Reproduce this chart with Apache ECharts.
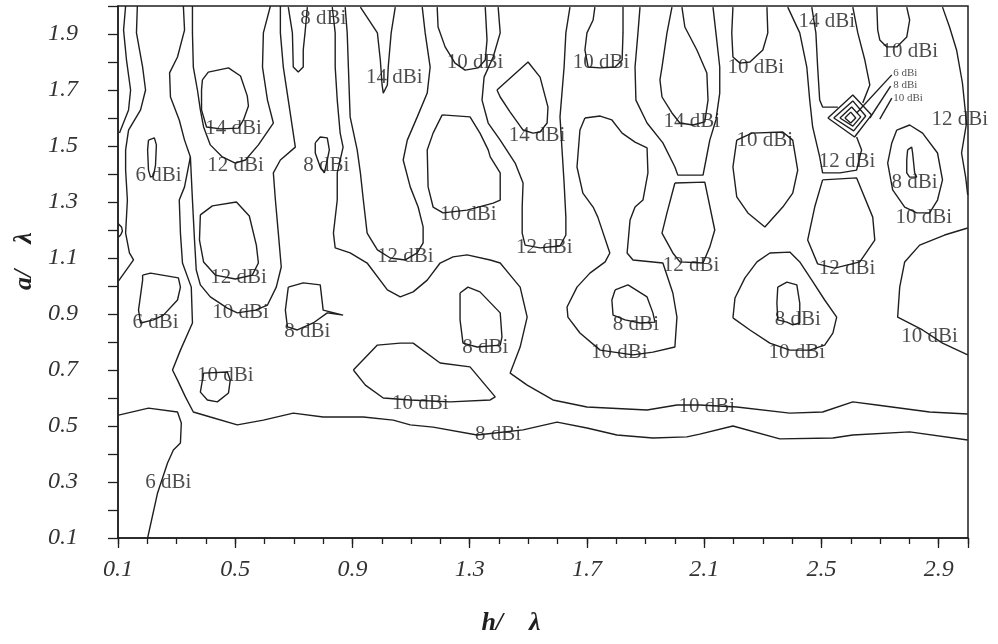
<!DOCTYPE html>
<html>
<head>
<meta charset="utf-8">
<script src="https://cdn.jsdelivr.net/npm/echarts@6/dist/echarts.min.js"></script>
<style>
  html, body { margin: 0; padding: 0; background: #fff; }
  #chart { width: 998px; height: 644px; }
</style>
</head>
<body>
<div id="chart"></div>
<script>
// Gain contours (dBi) over h/λ (x) and a/λ (y)
const xTickLabels = ['0.1', '0.5', '0.9', '1.3', '1.7', '2.1', '2.5', '2.9'];
const yTickLabels = ['0.1', '0.3', '0.5', '0.7', '0.9', '1.1', '1.3', '1.5', '1.7', '1.9'];

// left strip
const edgeTopLeft = [[0.126,2.0],[0.119,1.914],[0.129,1.807],[0.143,1.700],[0.136,1.629],[0.105,1.546]];
const edgeLeft2 = [[0.166,2.0],[0.163,1.904],[0.184,1.782],[0.194,1.700],[0.177,1.629],[0.136,1.557],[0.126,1.486],[0.126,1.414],[0.132,1.307],[0.126,1.189],[0.139,1.118],[0.153,1.093],[0.102,1.018]];
const edgeBump = [[0.102,1.221],[0.112,1.211],[0.115,1.196],[0.109,1.182],[0.102,1.175]];
const loop6a = [[0.204,1.521],[0.224,1.529],[0.231,1.504],[0.228,1.432],[0.221,1.393],[0.211,1.389],[0.204,1.414],[0.201,1.486],[0.204,1.521]];
const line10a = [[0.323,2.0],[0.327,1.914],[0.303,1.818],[0.276,1.761],[0.279,1.675],[0.309,1.593],[0.327,1.521],[0.347,1.461]];
const line8long = [[0.347,1.461],[0.327,1.354],[0.309,1.307],[0.313,1.189],[0.320,1.082],[0.350,0.996],[0.354,0.868],[0.313,0.771],[0.286,0.700],[0.303,0.664],[0.330,0.604],[0.357,0.550],[0.415,0.532],[0.507,0.504],[0.596,0.521],[0.698,0.546],[0.800,0.532],[0.937,0.532],[1.039,0.521],[1.097,0.504],[1.175,0.496],[1.325,0.468],[1.482,0.486],[1.598,0.514],[1.700,0.493],[1.802,0.468],[1.925,0.457],[2.041,0.461],[2.085,0.471],[2.198,0.500],[2.358,0.454],[2.539,0.457],[2.607,0.468],[2.801,0.479],[2.999,0.450]];
const line10b = [[0.347,1.461],[0.354,1.307],[0.361,1.164],[0.367,1.057],[0.381,1.004],[0.415,0.961],[0.473,0.921],[0.507,0.904],[0.569,0.914],[0.610,0.932],[0.640,0.996],[0.657,1.068],[0.647,1.189],[0.637,1.307],[0.630,1.404],[0.654,1.450],[0.705,1.496],[0.681,1.664],[0.664,1.782],[0.654,1.904],[0.654,2.0]];
const u12a = [[0.354,2.0],[0.354,1.904],[0.357,1.782],[0.371,1.700],[0.381,1.629],[0.392,1.568],[0.415,1.504],[0.456,1.461],[0.500,1.439],[0.535,1.450],[0.579,1.504],[0.630,1.582],[0.610,1.664],[0.593,1.782],[0.596,1.904],[0.620,2.0]];
const loop14a = [[0.388,1.736],[0.408,1.764],[0.477,1.779],[0.518,1.750],[0.541,1.679],[0.545,1.643],[0.528,1.593],[0.511,1.564],[0.449,1.561],[0.402,1.568],[0.385,1.629],[0.385,1.700],[0.388,1.736]];
const loop12a = [[0.381,1.254],[0.422,1.286],[0.504,1.300],[0.548,1.250],[0.572,1.146],[0.579,1.082],[0.558,1.039],[0.500,1.025],[0.432,1.039],[0.392,1.086],[0.378,1.164],[0.381,1.254]];
const loop6b = [[0.184,1.039],[0.211,1.046],[0.306,1.029],[0.313,0.996],[0.303,0.950],[0.255,0.896],[0.221,0.879],[0.177,0.868],[0.170,0.914],[0.184,1.021],[0.184,1.039]];
const loop8a = [[0.681,0.996],[0.732,1.011],[0.790,1.004],[0.800,0.914],[0.868,0.896],[0.814,0.904],[0.766,0.868],[0.712,0.843],[0.678,0.854],[0.671,0.914],[0.681,0.996]];
const loop10small = [[0.392,0.689],[0.473,0.693],[0.483,0.664],[0.477,0.618],[0.439,0.586],[0.405,0.593],[0.381,0.621],[0.388,0.664],[0.392,0.689]];
const line6low = [[0.102,0.539],[0.204,0.564],[0.303,0.550],[0.316,0.511],[0.313,0.439],[0.289,0.414],[0.269,0.368],[0.235,0.261],[0.201,0.100]];
const tongue8 = [[0.681,1.996],[0.695,1.904],[0.698,1.782],[0.715,1.764],[0.732,1.782],[0.732,1.843],[0.739,1.914],[0.746,1.996]];
const loop8b = [[0.773,1.511],[0.790,1.532],[0.814,1.529],[0.821,1.486],[0.814,1.450],[0.804,1.404],[0.790,1.425],[0.773,1.475],[0.773,1.511]];

// centre
const u12b = [[0.875,1.996],[0.882,1.904],[0.886,1.782],[0.892,1.604],[0.916,1.486],[0.927,1.404],[0.937,1.307],[0.950,1.189],[0.985,1.129],[1.029,1.100],[1.080,1.093],[1.121,1.118],[1.141,1.154],[1.141,1.211],[1.124,1.282],[1.097,1.354],[1.073,1.450],[1.087,1.521],[1.121,1.604],[1.155,1.689],[1.165,1.782],[1.148,1.904],[1.138,1.996]];
const tongue14 = [[0.927,1.996],[0.985,1.904],[0.995,1.807],[1.001,1.718],[1.005,1.689],[1.019,1.718],[1.022,1.782],[1.032,1.904],[1.046,1.996]];
const line10long = [[0.831,1.996],[0.841,1.904],[0.841,1.782],[0.848,1.664],[0.858,1.546],[0.868,1.496],[0.848,1.404],[0.848,1.307],[0.835,1.189],[0.841,1.136],[0.892,1.118],[0.950,1.082],[1.019,0.986],[1.063,0.961],[1.107,0.979],[1.155,1.021],[1.199,1.082],[1.243,1.104],[1.291,1.111],[1.370,1.093],[1.404,1.082],[1.438,1.039],[1.472,0.996],[1.496,0.889],[1.472,0.782],[1.438,0.689],[1.496,0.646],[1.584,0.593],[1.700,0.568],[1.905,0.557],[2.007,0.575],[2.085,0.575],[2.211,0.568],[2.392,0.546],[2.504,0.550],[2.607,0.586],[2.689,0.575],[2.869,0.550],[2.999,0.543]];
const loop10mid = [[0.903,0.700],[0.985,0.789],[1.063,0.796],[1.107,0.796],[1.199,0.725],[1.301,0.711],[1.387,0.604],[1.370,0.593],[1.233,0.586],[1.097,0.593],[1.005,0.600],[0.944,0.646],[0.903,0.700]];
const loop8mid = [[1.267,0.975],[1.294,0.996],[1.335,0.979],[1.404,0.904],[1.410,0.818],[1.404,0.789],[1.325,0.782],[1.277,0.796],[1.267,0.879],[1.267,0.975]];
const u10a = [[1.189,1.996],[1.192,1.925],[1.216,1.854],[1.250,1.796],[1.284,1.771],[1.329,1.779],[1.353,1.807],[1.359,1.879],[1.353,1.996]];
const u12c = [[1.397,1.996],[1.404,1.904],[1.380,1.818],[1.349,1.746],[1.342,1.664],[1.363,1.582],[1.404,1.521],[1.455,1.439],[1.482,1.368],[1.479,1.282],[1.479,1.189],[1.489,1.146],[1.540,1.136],[1.608,1.143],[1.628,1.182],[1.628,1.246],[1.622,1.368],[1.615,1.486],[1.608,1.604],[1.622,1.782],[1.628,1.904],[1.642,1.996]];
const loop14b = [[1.393,1.700],[1.499,1.800],[1.540,1.746],[1.567,1.639],[1.564,1.582],[1.540,1.550],[1.516,1.546],[1.482,1.557],[1.438,1.621],[1.404,1.675],[1.393,1.700]];
const loop10b = [[1.206,1.611],[1.301,1.604],[1.335,1.546],[1.363,1.486],[1.370,1.461],[1.404,1.404],[1.404,1.307],[1.380,1.296],[1.291,1.271],[1.209,1.261],[1.175,1.282],[1.158,1.354],[1.155,1.486],[1.175,1.546],[1.206,1.611]];
const u10b = [[1.727,1.996],[1.721,1.950],[1.700,1.904],[1.693,1.843],[1.704,1.782],[1.745,1.779],[1.796,1.782],[1.820,1.807],[1.823,1.904],[1.823,1.996]];
const u12d = [[1.881,1.996],[1.874,1.904],[1.864,1.782],[1.867,1.664],[1.905,1.582],[1.959,1.511],[2.000,1.425],[2.010,1.396],[2.096,1.396],[2.106,1.450],[2.119,1.521],[2.140,1.593],[2.153,1.689],[2.153,1.782],[2.140,1.904],[2.130,1.996]];
const u14b = [[1.990,1.996],[1.973,1.904],[1.956,1.782],[1.949,1.736],[1.956,1.675],[1.990,1.618],[2.017,1.582],[2.062,1.575],[2.102,1.586],[2.113,1.664],[2.109,1.761],[2.075,1.843],[2.034,1.925],[2.024,1.996]];
const waist10 = [[1.693,1.600],[1.745,1.607],[1.785,1.593],[1.820,1.546],[1.864,1.514],[1.905,1.493],[1.908,1.404],[1.891,1.307],[1.864,1.282],[1.847,1.236],[1.837,1.118],[1.857,1.093],[1.959,1.082],[1.993,0.975],[2.007,0.889],[2.000,0.782],[1.925,0.764],[1.857,0.754],[1.745,0.771],[1.676,0.832],[1.635,0.889],[1.632,0.925],[1.666,0.996],[1.710,1.046],[1.762,1.086],[1.778,1.118],[1.737,1.246],[1.721,1.282],[1.686,1.332],[1.666,1.425],[1.676,1.557],[1.693,1.600]];
const loop8c = [[1.796,0.986],[1.840,1.004],[1.905,0.961],[1.925,0.904],[1.932,0.871],[1.881,0.868],[1.830,0.879],[1.789,0.896],[1.785,0.950],[1.796,0.986]];
const loop12c = [[2.000,1.368],[2.102,1.371],[2.136,1.200],[2.119,1.139],[2.096,1.082],[2.017,1.086],[1.993,1.118],[1.956,1.189],[1.973,1.261],[2.000,1.368]];

// right side
const u10c = [[2.198,1.996],[2.194,1.904],[2.198,1.818],[2.222,1.796],[2.256,1.800],[2.300,1.843],[2.317,1.904],[2.314,1.996]];
const u12e = [[2.385,1.996],[2.426,1.904],[2.450,1.782],[2.460,1.664],[2.470,1.568],[2.494,1.461],[2.504,1.404],[2.563,1.404],[2.620,1.414],[2.637,1.486],[2.620,1.532]];
const u14cLeft = [[2.467,1.996],[2.481,1.904],[2.487,1.782],[2.494,1.664],[2.504,1.639],[2.556,1.639]];
const u14cRight = [[2.607,1.996],[2.624,1.904],[2.648,1.807],[2.665,1.718],[2.641,1.654]];
const diamond1 = [[2.522,1.600],[2.607,1.682],[2.671,1.611],[2.613,1.532],[2.522,1.600]];
const diamond2 = [[2.542,1.600],[2.607,1.661],[2.651,1.607],[2.610,1.554],[2.542,1.600]];
const diamond3 = [[2.563,1.600],[2.603,1.639],[2.634,1.604],[2.607,1.571],[2.563,1.600]];
const diamond4 = [[2.580,1.600],[2.600,1.621],[2.617,1.600],[2.600,1.582],[2.580,1.600]];
const leader6 = [[2.740,1.754],[2.620,1.618]];
const leader8 = [[2.736,1.714],[2.665,1.600]];
const leader10 = [[2.740,1.671],[2.699,1.596]];
const u10d = [[2.689,1.996],[2.692,1.914],[2.699,1.879],[2.723,1.854],[2.757,1.854],[2.791,1.889],[2.801,1.950],[2.791,1.996]];
const edgeRight = [[2.913,1.996],[2.937,1.925],[2.961,1.843],[2.981,1.725],[2.995,1.582],[2.978,1.475],[2.992,1.389],[2.999,1.325]];
const loop10r = [[2.757,1.557],[2.801,1.575],[2.845,1.546],[2.896,1.475],[2.913,1.379],[2.896,1.307],[2.869,1.261],[2.825,1.261],[2.784,1.282],[2.743,1.343],[2.726,1.439],[2.740,1.511],[2.757,1.557]];
const loop8r = [[2.794,1.486],[2.808,1.496],[2.811,1.475],[2.818,1.404],[2.825,1.389],[2.801,1.389],[2.791,1.404],[2.791,1.450],[2.794,1.486]];
const loop10c = [[2.211,1.521],[2.263,1.546],[2.368,1.550],[2.402,1.521],[2.419,1.414],[2.402,1.332],[2.368,1.282],[2.307,1.211],[2.249,1.261],[2.211,1.318],[2.198,1.425],[2.211,1.521]];
const loop12r = [[2.504,1.379],[2.620,1.386],[2.675,1.246],[2.682,1.164],[2.631,1.086],[2.545,1.064],[2.487,1.079],[2.453,1.164],[2.477,1.282],[2.504,1.379]];
const ring10r = [[2.198,0.886],[2.205,0.957],[2.239,1.029],[2.280,1.086],[2.324,1.118],[2.392,1.121],[2.426,1.086],[2.467,1.021],[2.511,0.950],[2.552,0.889],[2.539,0.832],[2.511,0.789],[2.460,0.771],[2.392,0.771],[2.324,0.796],[2.256,0.843],[2.198,0.886]];
const loop8d = [[2.351,0.996],[2.382,1.014],[2.416,1.004],[2.426,0.939],[2.426,0.868],[2.402,0.861],[2.382,0.871],[2.351,0.879],[2.348,0.939],[2.351,0.996]];
const edge10rb = [[2.999,1.207],[2.920,1.182],[2.835,1.146],[2.784,1.086],[2.767,0.996],[2.760,0.889],[2.845,0.843],[2.913,0.796],[2.999,0.754]];

const contourLines = [
  edgeTopLeft, edgeLeft2, edgeBump, loop6a, line10a, line8long, line10b, u12a, loop14a,
  loop12a, loop6b, loop8a, loop10small, line6low, tongue8, loop8b,
  u12b, tongue14, line10long, loop10mid, loop8mid, u10a, u12c, loop14b, loop10b,
  u10b, u12d, u14b, waist10, loop8c, loop12c,
  u10c, u12e, u14cLeft, u14cRight, diamond1, diamond2, diamond3, diamond4,
  leader6, leader8, leader10, u10d, edgeRight, loop10r, loop8r, loop10c, loop12r,
  ring10r, loop8d, edge10rb
];

// contour level labels: [x, y, text]
const levelLabels = [
  [0.800,1.957,'8 dBi'], [1.043,1.746,'14 dBi'], [1.318,1.800,'10 dBi'], [1.748,1.800,'10 dBi'],
  [2.276,1.779,'10 dBi'], [2.518,1.943,'14 dBi'], [2.801,1.836,'10 dBi'], [2.972,1.593,'12 dBi'],
  [0.494,1.564,'14 dBi'], [0.501,1.432,'12 dBi'], [0.238,1.396,'6 dBi'], [0.811,1.432,'8 dBi'],
  [1.530,1.539,'14 dBi'], [2.058,1.586,'14 dBi'], [2.307,1.521,'10 dBi'], [2.587,1.443,'12 dBi'],
  [2.818,1.371,'8 dBi'], [1.295,1.254,'10 dBi'], [2.849,1.246,'10 dBi'], [1.080,1.107,'12 dBi'],
  [1.554,1.136,'12 dBi'], [2.055,1.075,'12 dBi'], [2.587,1.064,'12 dBi'], [0.511,1.032,'12 dBi'],
  [0.228,0.868,'6 dBi'], [0.518,0.904,'10 dBi'], [0.746,0.836,'8 dBi'], [1.353,0.782,'8 dBi'],
  [1.867,0.861,'8 dBi'], [1.810,0.764,'10 dBi'], [2.419,0.879,'8 dBi'], [2.416,0.761,'10 dBi'],
  [2.869,0.818,'10 dBi'], [0.466,0.682,'10 dBi'], [1.131,0.582,'10 dBi'], [2.109,0.568,'10 dBi'],
  [1.397,0.468,'8 dBi'], [0.272,0.300,'6 dBi']
];
const calloutLabels = [
  [2.745,1.761,'6 dBi'], [2.745,1.718,'8 dBi'], [2.745,1.672,'10 dBi']
];

const INK = '#1f1f1f';
const SERIF = '"Liberation Serif", "Times New Roman", serif';

const series = contourLines.map(pts => ({
  type: 'line',
  data: pts,
  symbol: 'none',
  smooth: false,
  silent: true,
  animation: false,
  lineStyle: { color: INK, width: 1.4 },
  z: 2
}));

series.push({
  type: 'scatter',
  data: levelLabels.map(d => ({ value: [d[0], d[1]], name: d[2] })),
  symbolSize: 1,
  itemStyle: { color: 'rgba(0,0,0,0)' },
  silent: true,
  animation: false,
  z: 3,
  label: {
    show: true, position: 'inside', formatter: '{b}',
    fontFamily: SERIF, fontSize: 21, color: INK
  }
});
series.push({
  type: 'scatter',
  data: calloutLabels.map(d => ({ value: [d[0], d[1]], name: d[2] })),
  symbolSize: 1,
  itemStyle: { color: 'rgba(0,0,0,0)' },
  silent: true,
  animation: false,
  z: 3,
  label: {
    show: true, position: 'inside', align: 'left', formatter: '{b}',
    fontFamily: SERIF, fontSize: 11, color: INK
  }
});

const chart = echarts.init(document.getElementById('chart'), null, { renderer: 'canvas' });
chart.setOption({
  backgroundColor: '#fff',
  animation: false,
  grid: { left: 118, right: 30, top: 6, bottom: 106, show: true, borderColor: INK, borderWidth: 1.5, backgroundColor: 'transparent' },
  xAxis: [
    {
      type: 'value', min: 0.1, max: 3.0, interval: 0.1,
      axisLine: { show: true, onZero: false, lineStyle: { color: INK, width: 1.5 } },
      axisTick: { show: true, length: 6, lineStyle: { color: INK, width: 1.3 } },
      axisLabel: { show: false },
      splitLine: { show: false }
    },
    {
      type: 'value', min: 0, max: 7.25, interval: 1, position: 'bottom',
      axisLine: { show: false, onZero: false },
      axisTick: { show: true, length: 10, lineStyle: { color: INK, width: 1.3 } },
      axisLabel: {
        show: true, margin: 20, fontFamily: SERIF, fontStyle: 'italic', fontSize: 24, color: '#333',
        formatter: v => (Number.isInteger(v) && xTickLabels[v] !== undefined) ? xTickLabels[v] : ''
      },
      splitLine: { show: false },
      name: 'h/\u2003λ', nameLocation: 'middle', nameGap: 72,
      nameTextStyle: { fontFamily: SERIF, fontStyle: 'italic', fontWeight: 'bold', fontSize: 26, color: INK, padding: [0, 64, 0, 0] }
    }
  ],
  yAxis: {
    type: 'value', min: 0.1, max: 2.0, interval: 0.1,
    axisLine: { show: true, onZero: false, lineStyle: { color: INK, width: 1.5 } },
    axisTick: { show: true, length: 10, lineStyle: { color: INK, width: 1.3 } },
    axisLabel: {
      show: true, margin: 40, fontFamily: SERIF, fontStyle: 'italic', fontSize: 24, color: '#333',
      formatter: v => { const s = v.toFixed(1); return yTickLabels.includes(s) ? s : ''; }
    },
    splitLine: { show: false },
    name: 'a/\u2003λ', nameLocation: 'middle', nameGap: 74, nameRotate: 90,
    nameTextStyle: { fontFamily: SERIF, fontStyle: 'italic', fontWeight: 'bold', fontSize: 26, color: INK, padding: [0, 0, 0, 22] }
  },
  series: series
});
</script>
</body>
</html>
